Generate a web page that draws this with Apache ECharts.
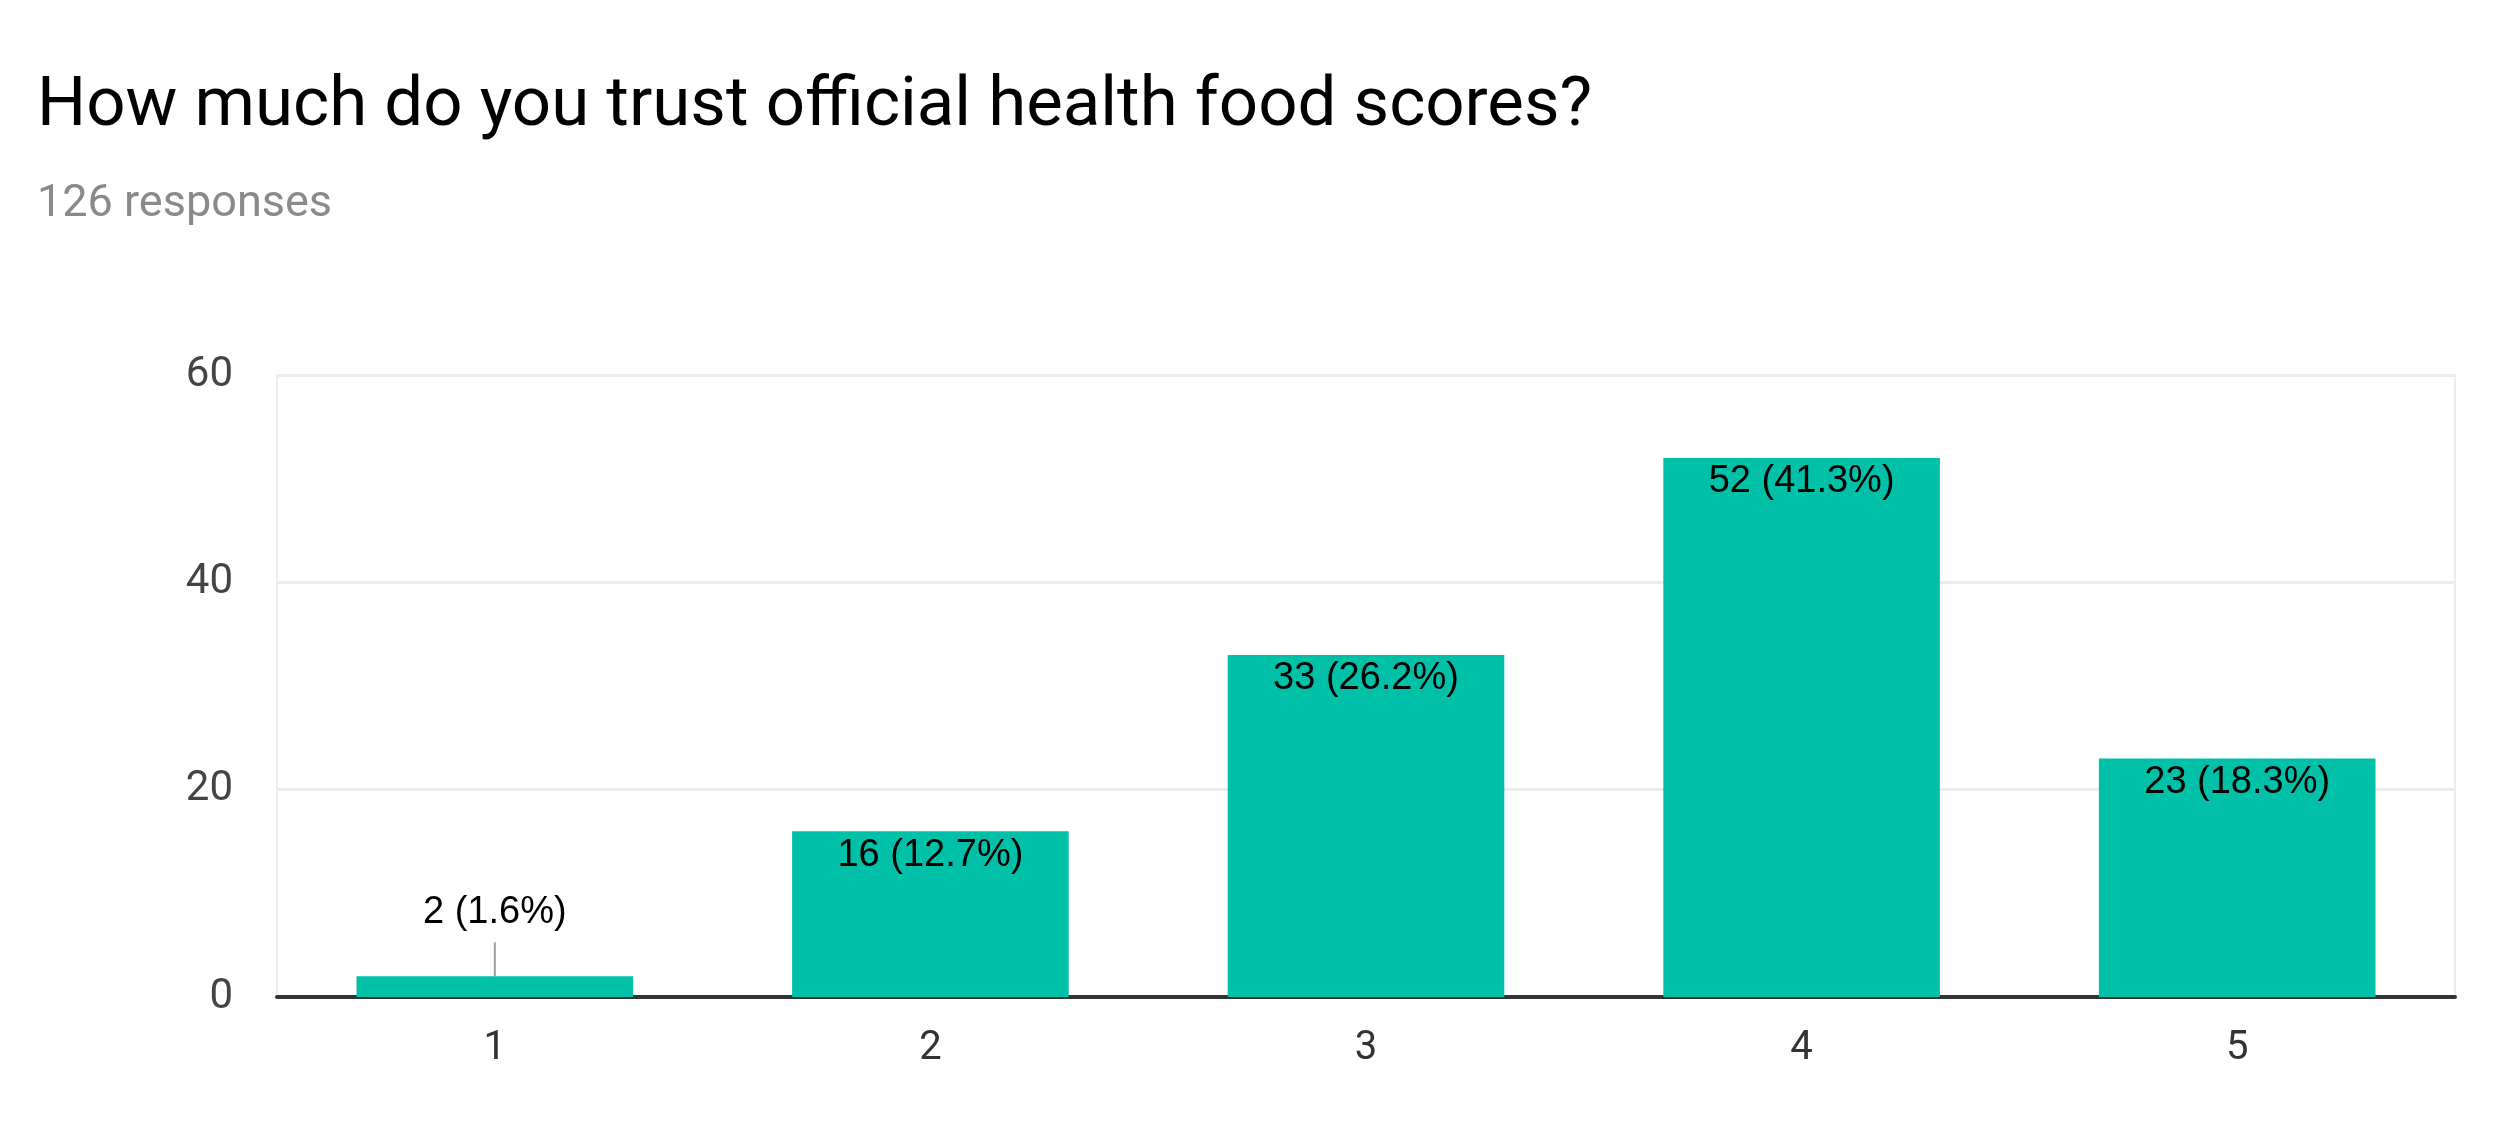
<!DOCTYPE html>
<html lang="en">
  <head>
    <meta charset="UTF-8" />
    <title>How much do you trust official health food scores?</title>
    <script src="https://cdn.jsdelivr.net/npm/echarts@6/dist/echarts.min.js"></script>
    <style>
      html, body { margin: 0; padding: 0; background: #fff; }
      #chart { width: 2500px; height: 1144px; }
    </style>
  </head>
  <body>
    <div id="chart"></div>
    <script>
      // survey answers
      var categories = ["1", "2", "3", "4", "5"];
      var counts = [2, 16, 33, 52, 23];
      var percents = ["1.6%", "12.7%", "26.2%", "41.3%", "18.3%"];
      var yTicks = { min: 0, max: 60, interval: 20 };
      var totalResponses = 126;

      var barColor = "#00c0a8";

      // small bars get their label above with a short leader line
      var seriesData = counts.map(function (v, i) {
        var txt = v + " (" + percents[i] + ")";
        if (v < 8) {
          return {
            value: v,
            label: {
              position: "top",
              distance: 0,
              formatter: "{t|" + txt + "}\n{l| }",
            },
          };
        }
        return { value: v, label: { formatter: "{t|" + txt + "}" } };
      });

      var chart = echarts.init(document.getElementById("chart"));
      var option = {
        animation: false,
        backgroundColor: "#fff",
        title: {
          text: "How much do you trust official health food scores?",
          subtext: totalResponses + " responses",
          left: 32,
          top: 68,
          itemGap: 40,
          textStyle: {
            fontFamily: "Roboto",
            fontSize: 69,
            fontWeight: "normal",
            color: "#000",
          },
          subtextStyle: {
            fontFamily: "Roboto",
            fontSize: 45,
            color: "#8a8a8a",
          },
        },
        grid: {
          left: 277,
          right: 45,
          top: 375,
          bottom: 147,
          show: true,
          borderColor: "#ececec",
          borderWidth: 2,
        },
        xAxis: {
          type: "category",
          data: categories,
          axisLine: { lineStyle: { color: "#333", width: 4 } },
          axisTick: { show: false },
          axisLabel: {
            margin: 32,
            fontFamily: "Roboto",
            fontSize: 40,
            color: "#333",
          },
        },
        yAxis: {
          type: "value",
          min: yTicks.min,
          max: yTicks.max,
          interval: yTicks.interval,
          axisLine: { show: false },
          axisTick: { show: false },
          splitLine: { lineStyle: { color: "#ececec", width: 3 } },
          axisLabel: {
            margin: 44,
            fontFamily: "Roboto",
            fontSize: 42,
            color: "#444",
          },
        },
        series: [
          {
            type: "bar",
            data: seriesData,
            barWidth: "63.5%",
            itemStyle: { color: barColor },
            label: {
              show: true,
              position: "insideTop",
              distance: 10,
              rich: {
                t: {
                  fontFamily: "Liberation Sans",
                  fontSize: 38,
                  color: "#000",
                  lineHeight: 44,
                  padding: [0, 0, 16, 0],
                },
                l: {
                  width: 2,
                  height: 34,
                  fontSize: 2,
                  backgroundColor: "#9e9e9e",
                },
              },
            },
          },
        ],
      };
      chart.setOption(option);
    </script>
  </body>
</html>
